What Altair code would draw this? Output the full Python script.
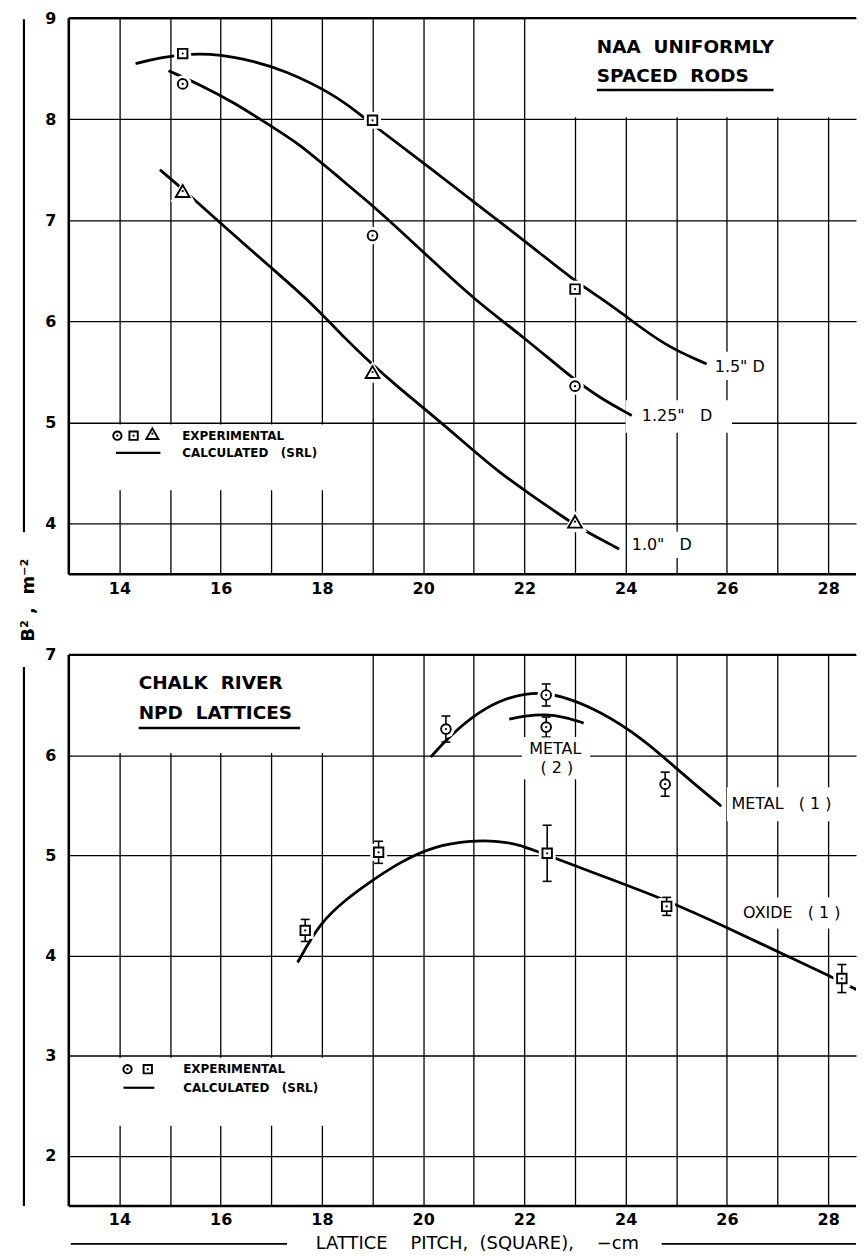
import altair as alt
import pandas as pd

FONT = "DejaVu Sans"
W = 790
H_TOP = 558
H_BOT = 553
X_MIN, X_MAX = 13, 28.55
NB = "\u00a0"  # non-breaking space (SVG collapses runs of ordinary spaces)

# ---------------- top panel: NAA uniformly spaced rods ----------------
naa_pitch = [15.25, 19.0, 23.0]
naa_b2_125 = [8.35, 6.85, 5.36]   # circles, 1.25" D
naa_b2_150 = [8.65, 7.99, 6.32]   # squares, 1.5" D
naa_b2_100 = [7.29, 5.50, 4.02]   # triangles, 1.0" D

calc150_x = [14.32, 14.8, 15.4, 16.0, 16.6, 17.24, 18.23, 18.8, 19.1, 20.19, 21.0, 22.0, 22.94, 23.6, 23.93, 24.77, 25.6]
calc150_y = [8.55, 8.61, 8.65, 8.64, 8.58, 8.49, 8.25, 8.03, 7.91, 7.50, 7.18, 6.80, 6.42, 6.20, 6.08, 5.76, 5.58]
calc125_x = [14.97, 15.6, 16.25, 17.0, 17.57, 18.2, 18.9, 19.5, 20.19, 21.0, 22.0, 22.94, 23.5, 24.12]
calc125_y = [8.48, 8.34, 8.17, 7.93, 7.75, 7.48, 7.19, 6.92, 6.60, 6.22, 5.84, 5.44, 5.24, 5.07]
calc100_x = [14.8, 15.34, 16.0, 17.0, 17.76, 18.5, 18.94, 19.5, 20.19, 21.0, 21.5, 22.0, 22.78, 23.18, 23.87]
calc100_y = [7.50, 7.27, 6.97, 6.53, 6.20, 5.81, 5.60, 5.35, 5.07, 4.72, 4.51, 4.33, 4.06, 3.93, 3.75]

top_title_text = ["NAA" + NB + NB + "UNIFORMLY", "SPACED" + NB + NB + "RODS"]
top_title_x = [23.43, 23.43]
top_title_y = [8.71, 8.43]
top_curve_text = ['1.5"' + NB + "D", '1.25"' + NB * 3 + "D", '1.0"' + NB * 3 + "D"]
top_curve_x = [25.76, 24.32, 24.12]
top_curve_y = [5.55, 5.06, 3.79]
top_legend_text = ["EXPERIMENTAL", "CALCULATED" + NB * 3 + "(SRL)"]
top_legend_x = [15.24, 15.24]
top_legend_y = [4.87, 4.70]

# ---------------- bottom panel: Chalk River NPD lattices ----------------
metal1_x = [20.45, 22.43, 24.78]
metal1_y = [6.26, 6.60, 5.71]
metal1_err = [0.13, 0.11, 0.12]
metal2_x = [22.43]
metal2_y = [6.28]
metal2_err = [0.10]
oxide_x = [17.67, 19.12, 22.45, 24.81, 28.27]
oxide_y = [4.25, 5.03, 5.02, 4.49, 3.77]
oxide_err = [0.11, 0.11, 0.28, 0.09, 0.14]

calc_metal1_x = [20.15, 20.5, 21.11, 21.64, 22.03, 22.3, 22.68, 23.47, 24.38, 25.1, 25.89]
calc_metal1_y = [5.98, 6.18, 6.44, 6.57, 6.61, 6.62, 6.60, 6.45, 6.15, 5.82, 5.49]
calc_metal2_x = [21.7, 22.0, 22.42, 22.8, 23.17]
calc_metal2_y = [6.36, 6.39, 6.41, 6.38, 6.32]
calc_oxide_x = [17.52, 17.96, 18.5, 18.94, 19.5, 20.19, 20.97, 21.5, 21.89, 22.45, 23.5, 24.77, 26.0, 27.25, 28.06, 28.71]
calc_oxide_y = [3.93, 4.33, 4.57, 4.73, 4.92, 5.09, 5.15, 5.14, 5.11, 5.00, 4.80, 4.56, 4.28, 3.98, 3.79, 3.62]

bot_title_text = ["CHALK" + NB + NB + "RIVER", "NPD" + NB + NB + "LATTICES"]
bot_title_x = [14.38, 14.38]
bot_title_y = [6.72, 6.42]
bot_curve_text = ["METAL" + NB * 3 + "(" + NB + "1" + NB + ")", "OXIDE" + NB * 3 + "(" + NB + "1" + NB + ")"]
bot_curve_x = [26.09, 26.32]
bot_curve_y = [5.51, 4.42]
bot_center_text = ["METAL", "(" + NB + "2" + NB + ")"]
bot_center_x = [22.61, 22.64]
bot_center_y = [6.06, 5.87]
bot_legend_text = ["EXPERIMENTAL", "CALCULATED" + NB * 3 + "(SRL)"]
bot_legend_x = [15.26, 15.26]
bot_legend_y = [2.865, 2.68]

x_title = "LATTICE" + NB * 4 + "PITCH," + NB * 2 + "(SQUARE)," + NB * 4 + "−cm"
y_title = "B²" + NB + "," + NB * 2 + "m⁻²"

# legend symbols / lines, title underlines, blank (white) boxes of the drawing
top_leg_circle = ([13.96], [4.87])
top_leg_square = ([14.28], [4.87])
top_leg_tri = ([14.65], [4.89])
top_leg_line = ([13.93], [14.81], [4.70])
bot_leg_circle = ([14.16], [2.865])
bot_leg_square = ([14.56], [2.865])
bot_leg_line = ([14.08], [14.69], [2.68])
top_underline = ([23.43], [26.92], [8.29])
bot_underline = ([14.38], [17.57], [6.27])
top_mask = ([22.04, 13.0, 25.65, 24.0, 24.05],
            [X_MAX, 18.97, 26.9, 26.1, 25.7],
            [8.02, 4.33, 5.42, 4.9, 3.66],
            [9.0, 4.98, 5.70, 5.22, 3.92])
bot_mask = ([13.0, 13.0, 21.95, 26.0, 26.2],
            [18.97, 18.97, 23.3, 28.55, 28.55],
            [6.02, 2.30, 5.76, 5.34, 4.27],
            [7.0, 2.98, 6.18, 5.68, 4.58])

XS = alt.Scale(domain=[X_MIN, X_MAX], nice=False, zero=False)
YS_TOP = alt.Scale(domain=[3.5, 9], nice=False, zero=False)
YS_BOT = alt.Scale(domain=[1.5, 7], nice=False, zero=False)

common_axis = dict(title=None, grid=True, domain=False, ticks=False, labelFlush=False,
                   labelOverlap=False, labelFont=FONT, labelFontSize=16, labelFontWeight="bold",
                   labelColor="black", gridColor="black", gridWidth=1.3, gridOpacity=1)
X_AXIS = alt.Axis(values=list(range(13, 29)), labelExpr="datum.value % 2 == 0 ? datum.label : ''",
                  labelPadding=6, **common_axis)
Y_AXIS_TOP = alt.Axis(values=[4, 5, 6, 7, 8, 9], labelPadding=13, **common_axis)
Y_AXIS_BOT = alt.Axis(values=[2, 3, 4, 5, 6, 7], labelPadding=13, **common_axis)


def panel(ys, y_axis, H, masks, curves, symbols, errs, texts, rules, extras):
    def X(f):
        return alt.X(f, type="quantitative", scale=XS, axis=X_AXIS)

    def Y(f):
        return alt.Y(f, type="quantitative", scale=ys, axis=y_axis)

    layers = []
    mdf = pd.DataFrame({"x0": masks[0], "x1": masks[1], "y0": masks[2], "y1": masks[3]})
    layers.append(alt.Chart(mdf).mark_rect(color="white").encode(
        x=X("x0"), x2="x1", y=Y("y0"), y2="y1"))
    # calculated curves
    rows = []
    for name, xs_, ys_ in curves:
        for a, b in zip(xs_, ys_):
            rows.append({"curve": name, "x": a, "y": b})
    layers.append(alt.Chart(pd.DataFrame(rows)).mark_line(
        color="black", strokeWidth=2.8, interpolate="basis", clip=True).encode(
        x=X("x"), y=Y("y"), detail="curve:N"))
    # straight rules (legend lines, underlines)
    for x0, x1, yv, sw in rules:
        rdf = pd.DataFrame({"x0": x0, "x1": x1, "y": yv})
        layers.append(alt.Chart(rdf).mark_rule(color="black", strokeWidth=sw).encode(
            x=X("x0"), x2="x1", y=Y("y")))
    # white gaps around symbols
    for xs_, ys_, shape, size in symbols:
        sdf = pd.DataFrame({"x": xs_, "y": ys_})
        layers.append(alt.Chart(sdf).mark_point(shape=shape, filled=True, color="white",
                                                size=size * 3.2, opacity=1).encode(x=X("x"), y=Y("y")))
    # error bars
    for xs_, ys_, es_ in errs:
        edf = pd.DataFrame({"x": xs_, "lo": [a - e for a, e in zip(ys_, es_)],
                            "hi": [a + e for a, e in zip(ys_, es_)]})
        layers.append(alt.Chart(edf).mark_rule(color="black", strokeWidth=1.6).encode(
            x=X("x"), y=Y("lo"), y2="hi"))
        for f in ("lo", "hi"):
            layers.append(alt.Chart(edf).mark_tick(color="black", orient="horizontal", size=9,
                                                   thickness=1.6, opacity=1).encode(x=X("x"), y=Y(f)))
    # symbols with central dot
    for xs_, ys_, shape, size in symbols:
        sdf = pd.DataFrame({"x": xs_, "y": ys_})
        layers.append(alt.Chart(sdf).mark_point(shape=shape, filled=True, fill="white", stroke="black",
                                                strokeWidth=1.9, size=size, opacity=1).encode(x=X("x"), y=Y("y")))
        layers.append(alt.Chart(sdf).mark_point(shape="circle", filled=True, color="black",
                                                size=5, opacity=1).encode(x=X("x"), y=Y("y")))
    # texts (white halo, then black)
    for t, xs_, ys_, size, weight, align, halo in texts:
        tdf = pd.DataFrame({"t": t, "x": xs_, "y": ys_})
        if halo:
            layers.append(alt.Chart(tdf).mark_text(align=align, baseline="middle", font=FONT, fontSize=size,
                                                   fontWeight=weight, color="white", stroke="white",
                                                   strokeWidth=9, strokeJoin="round").encode(
                x=X("x"), y=Y("y"), text="t:N"))
        layers.append(alt.Chart(tdf).mark_text(align=align, baseline="middle", font=FONT, fontSize=size,
                                               fontWeight=weight, color="black").encode(
            x=X("x"), y=Y("y"), text="t:N"))
    # frame (left, bottom, top)
    fdf = pd.DataFrame({"d": [0]})
    layers.append(alt.Chart(fdf).mark_rule(color="black", strokeWidth=2.6).encode(
        x=alt.value(0), y=alt.value(0), y2=alt.value(H)))
    layers.append(alt.Chart(fdf).mark_rule(color="black", strokeWidth=2.6).encode(
        x=alt.value(0), x2=alt.value(W), y=alt.value(H)))
    layers.append(alt.Chart(fdf).mark_rule(color="black", strokeWidth=2.2).encode(
        x=alt.value(0), x2=alt.value(W), y=alt.value(0)))
    layers.extend(extras(fdf))
    return alt.layer(*layers).properties(width=W, height=H)


def top_extras(fdf):
    return [
        alt.Chart(fdf).mark_rule(color="black", strokeWidth=2.2).encode(
            x=alt.value(-45), y=alt.value(1), y2=alt.value(516)),
        alt.Chart(fdf).mark_text(text=y_title, angle=270, align="center", baseline="middle",
                                 font=FONT, fontSize=18, fontWeight="bold", color="black").encode(
            x=alt.value(-40), y=alt.value(H_TOP + 26)),
    ]


def bot_extras(fdf):
    ty = H_BOT + 38
    return [
        alt.Chart(fdf).mark_rule(color="black", strokeWidth=2.2).encode(
            x=alt.value(-45), y=alt.value(12), y2=alt.value(H_BOT)),
        alt.Chart(fdf).mark_text(text=x_title, align="center",
                                 baseline="middle", font=FONT, fontSize=18, color="black").encode(
            x=alt.value(410), y=alt.value(ty)),
        alt.Chart(fdf).mark_rule(color="black", strokeWidth=1.8).encode(
            x=alt.value(2), x2=alt.value(219), y=alt.value(ty)),
        alt.Chart(fdf).mark_rule(color="black", strokeWidth=1.8).encode(
            x=alt.value(595), x2=alt.value(W), y=alt.value(ty)),
    ]


top = panel(
    YS_TOP, Y_AXIS_TOP, H_TOP, top_mask,
    [("1.5", calc150_x, calc150_y), ("1.25", calc125_x, calc125_y), ("1.0", calc100_x, calc100_y)],
    [(naa_pitch, naa_b2_125, "circle", 95), (naa_pitch, naa_b2_150, "square", 90),
     (naa_pitch, naa_b2_100, "triangle-up", 190),
     (top_leg_circle[0], top_leg_circle[1], "circle", 70), (top_leg_square[0], top_leg_square[1], "square", 70),
     (top_leg_tri[0], top_leg_tri[1], "triangle-up", 150)],
    [],
    [(top_title_text, top_title_x, top_title_y, 18.5, "bold", "left", False),
     (top_curve_text, top_curve_x, top_curve_y, 16, "normal", "left", True),
     (top_legend_text, top_legend_x, top_legend_y, 12, "bold", "left", False)],
    [(top_leg_line[0], top_leg_line[1], top_leg_line[2], 2.2),
     (top_underline[0], top_underline[1], top_underline[2], 2.6)],
    top_extras,
)

bottom = panel(
    YS_BOT, Y_AXIS_BOT, H_BOT, bot_mask,
    [("metal1", calc_metal1_x, calc_metal1_y), ("metal2", calc_metal2_x, calc_metal2_y),
     ("oxide", calc_oxide_x, calc_oxide_y)],
    [(metal1_x, metal1_y, "circle", 95), (metal2_x, metal2_y, "circle", 95), (oxide_x, oxide_y, "square", 90),
     (bot_leg_circle[0], bot_leg_circle[1], "circle", 70), (bot_leg_square[0], bot_leg_square[1], "square", 70)],
    [(metal1_x, metal1_y, metal1_err), (metal2_x, metal2_y, metal2_err), (oxide_x, oxide_y, oxide_err)],
    [(bot_title_text, bot_title_x, bot_title_y, 18.5, "bold", "left", False),
     (bot_curve_text, bot_curve_x, bot_curve_y, 16, "normal", "left", True),
     (bot_center_text, bot_center_x, bot_center_y, 16, "normal", "center", True),
     (bot_legend_text, bot_legend_x, bot_legend_y, 12, "bold", "left", False)],
    [(bot_leg_line[0], bot_leg_line[1], bot_leg_line[2], 2.2),
     (bot_underline[0], bot_underline[1], bot_underline[2], 2.6)],
    bot_extras,
)

chart = alt.vconcat(top, bottom, spacing=81, bounds="flush").properties(
    padding={"left": 12, "top": 0, "right": 0, "bottom": 0}
).configure_view(stroke=None)

chart.save("out.html", embed_options={"renderer": "svg", "actions": False})
